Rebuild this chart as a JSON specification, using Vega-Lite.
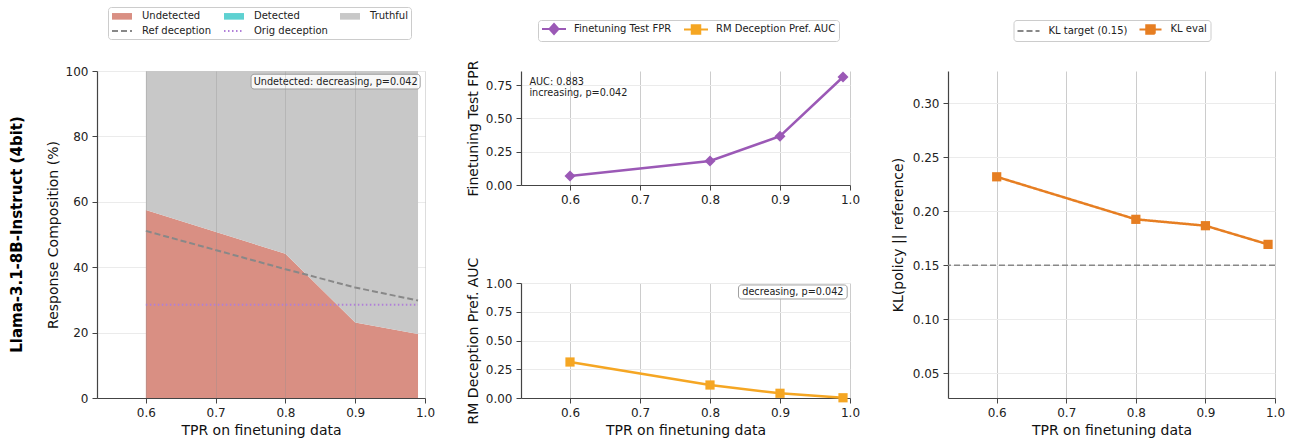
{
  "$schema": "https://vega.github.io/schema/vega-lite/v6.json",
  "padding": {"left": 10, "top": 6, "right": 5, "bottom": 5},
  "datasets": {
    "comp": [
      {"tpr": 0.6, "series": "Undetected", "pct": 57.5, "ord": 1},
      {"tpr": 0.8, "series": "Undetected", "pct": 44.1, "ord": 1},
      {"tpr": 0.9, "series": "Undetected", "pct": 23.1, "ord": 1},
      {"tpr": 0.99, "series": "Undetected", "pct": 19.6, "ord": 1},
      {"tpr": 0.6, "series": "Detected", "pct": 0, "ord": 2},
      {"tpr": 0.8, "series": "Detected", "pct": 0, "ord": 2},
      {"tpr": 0.9, "series": "Detected", "pct": 0, "ord": 2},
      {"tpr": 0.99, "series": "Detected", "pct": 0, "ord": 2},
      {"tpr": 0.6, "series": "Truthful", "pct": 42.5, "ord": 3},
      {"tpr": 0.8, "series": "Truthful", "pct": 55.9, "ord": 3},
      {"tpr": 0.9, "series": "Truthful", "pct": 76.9, "ord": 3},
      {"tpr": 0.99, "series": "Truthful", "pct": 80.4, "ord": 3}
    ],
    "refdec": [
      {"tpr": 0.6, "series": "Ref deception", "pct": 51.1},
      {"tpr": 0.8, "series": "Ref deception", "pct": 39.4},
      {"tpr": 0.9, "series": "Ref deception", "pct": 33.8},
      {"tpr": 0.99, "series": "Ref deception", "pct": 29.8}
    ],
    "origdec": [
      {"tpr": 0.6, "series": "Orig deception", "pct": 28.5},
      {"tpr": 0.99, "series": "Orig deception", "pct": 28.5}
    ],
    "ann_left": [
      {"x1": 0.7508, "x2": 0.9931, "y1": 94.5, "y2": 99.0, "tx": 0.872, "ty": 96.75, "label": "Undetected: decreasing, p=0.042"}
    ],
    "fpr": [
      {"tpr": 0.6, "series": "Finetuning Test FPR", "v": 0.067},
      {"tpr": 0.8, "series": "Finetuning Test FPR", "v": 0.18},
      {"tpr": 0.9, "series": "Finetuning Test FPR", "v": 0.366},
      {"tpr": 0.99, "series": "Finetuning Test FPR", "v": 0.811}
    ],
    "ann_fpr": [
      {"tx": 0.542, "ty": 0.777, "label": "AUC: 0.883"},
      {"tx": 0.542, "ty": 0.691, "label": "increasing, p=0.042"}
    ],
    "auc": [
      {"tpr": 0.6, "series": "RM Deception Pref. AUC", "v": 0.313},
      {"tpr": 0.8, "series": "RM Deception Pref. AUC", "v": 0.113},
      {"tpr": 0.9, "series": "RM Deception Pref. AUC", "v": 0.041},
      {"tpr": 0.99, "series": "RM Deception Pref. AUC", "v": 0.002}
    ],
    "ann_auc": [
      {"x1": 0.8407, "x2": 0.996, "y1": 0.861, "y2": 0.983, "tx": 0.9184, "ty": 0.922, "label": "decreasing, p=0.042"}
    ],
    "kl": [
      {"tpr": 0.6, "series": "KL eval", "v": 0.232},
      {"tpr": 0.8, "series": "KL eval", "v": 0.1926},
      {"tpr": 0.9, "series": "KL eval", "v": 0.1867},
      {"tpr": 0.99, "series": "KL eval", "v": 0.1694}
    ],
    "kltarget": [
      {"series": "KL target (0.15)", "v": 0.15}
    ]
  },
  "spacing": 31,
  "resolve": {"scale": {"fill": "independent", "stroke": "independent", "strokeDash": "independent", "shape": "independent", "color": "independent"}},
  "hconcat": [
    {
      "width": 328,
      "height": 327,
      "title": {"text": "Llama-3.1-8B-Instruct (4bit)", "orient": "left", "anchor": "middle", "frame": "group", "fontSize": 15, "fontWeight": "bold", "font": "DejaVu Sans", "color": "#000000", "offset": 21},
      "layer": [
        {
          "data": {"name": "comp"},
          "mark": {"type": "area", "opacity": 1},
          "encoding": {
            "x": {"field": "tpr", "type": "quantitative", "scale": {"domain": [0.53, 1.0], "nice": false, "zero": false},
                  "axis": {"values": [0.6, 0.7, 0.8, 0.9, 1.0], "tickCount": 20, "format": ".1f", "title": "TPR on finetuning data", "zindex": 1, "gridColor": "#909090", "gridOpacity": 0.3, "labelOverlap": false}},
            "y": {"field": "pct", "type": "quantitative", "stack": "zero", "scale": {"domain": [0, 100], "nice": false},
                  "axis": {"values": [0, 20, 40, 60, 80, 100], "tickCount": 20, "title": "Response Composition (%)", "labelOverlap": false}},
            "order": {"field": "ord", "type": "quantitative"},
            "fill": {
              "field": "series", "type": "nominal",
              "scale": {"domain": ["Undetected", "Detected", "Truthful", "Ref deception", "Orig deception"], "range": ["#d98f83", "#5ed1d1", "#c8c8c8", "transparent", "transparent"]},
              "legend": {"orient": "none", "legendX": 11, "legendY": -64, "columns": 3, "direction": "horizontal", "title": null, "symbolSize": 100, "symbolOffset": 5, "symbolStrokeWidth": 2, "symbolOpacity": 1, "labelFontSize": 10, "labelOffset": 14, "columnPadding": 8, "rowPadding": 1, "padding": 3, "strokeColor": "#cccccc", "fillColor": "#ffffff", "cornerRadius": 3}
            }
          }
        },
        {
          "data": {"name": "refdec"},
          "mark": {"type": "line", "strokeWidth": 2},
          "encoding": {
            "x": {"field": "tpr", "type": "quantitative"},
            "y": {"field": "pct", "type": "quantitative"},
            "stroke": {
              "field": "series", "type": "nominal",
              "scale": {"domain": ["Undetected", "Detected", "Truthful", "Ref deception", "Orig deception"], "range": ["transparent", "transparent", "transparent", "#888888", "#b07fd8"]},
              "legend": {"orient": "none", "legendX": 11, "legendY": -64, "columns": 3, "direction": "horizontal", "title": null, "symbolSize": 100, "symbolOffset": 5, "symbolStrokeWidth": 2, "symbolOpacity": 1, "labelFontSize": 10, "labelOffset": 14, "columnPadding": 8, "rowPadding": 1, "padding": 3, "strokeColor": "#cccccc", "fillColor": "#ffffff", "cornerRadius": 3}
            },
            "strokeDash": {
              "field": "series", "type": "nominal",
              "scale": {"domain": ["Undetected", "Detected", "Truthful", "Ref deception", "Orig deception"], "range": [[1, 0], [1, 0], [1, 0], [6, 3], [1.5, 2.5]]},
              "legend": {"orient": "none", "legendX": 11, "legendY": -64, "columns": 3, "direction": "horizontal", "title": null, "symbolSize": 100, "symbolOffset": 5, "symbolStrokeWidth": 2, "symbolOpacity": 1, "labelFontSize": 10, "labelOffset": 14, "columnPadding": 8, "rowPadding": 1, "padding": 3, "strokeColor": "#cccccc", "fillColor": "#ffffff", "cornerRadius": 3}
            }
          }
        },
        {
          "data": {"name": "origdec"},
          "mark": {"type": "line", "strokeWidth": 2},
          "encoding": {
            "x": {"field": "tpr", "type": "quantitative"},
            "y": {"field": "pct", "type": "quantitative"},
            "stroke": {"field": "series", "type": "nominal"},
            "strokeDash": {"field": "series", "type": "nominal"}
          }
        },
        {
          "data": {"name": "refdec"},
          "mark": {"type": "point", "opacity": 0, "filled": false},
          "encoding": {
            "x": {"field": "tpr", "type": "quantitative"},
            "y": {"field": "pct", "type": "quantitative"},
            "shape": {
              "field": "series", "type": "nominal",
              "scale": {"domain": ["Undetected", "Detected", "Truthful", "Ref deception", "Orig deception"], "range": ["M-2,-0.66H2V0.66H-2Z", "M-2,-0.66H2V0.66H-2Z", "M-2,-0.66H2V0.66H-2Z", "M-2,0H2", "M-2,0H2"]},
              "legend": {"orient": "none", "legendX": 11, "legendY": -64, "columns": 3, "direction": "horizontal", "title": null, "symbolSize": 100, "symbolOffset": 5, "symbolStrokeWidth": 2, "symbolOpacity": 1, "labelFontSize": 10, "labelOffset": 14, "columnPadding": 8, "rowPadding": 1, "padding": 3, "strokeColor": "#cccccc", "fillColor": "#ffffff", "cornerRadius": 3}
            }
          }
        },
        {
          "data": {"name": "ann_left"},
          "mark": {"type": "rect", "fill": "#ffffff", "fillOpacity": 0.85, "stroke": "#a0a0a0", "strokeWidth": 1, "cornerRadius": 3},
          "encoding": {
            "x": {"field": "x1", "type": "quantitative"},
            "x2": {"field": "x2"},
            "y": {"field": "y1", "type": "quantitative"},
            "y2": {"field": "y2"}
          }
        },
        {
          "data": {"name": "ann_left"},
          "mark": {"type": "text", "fontSize": 9.7, "font": "DejaVu Sans", "color": "#222222", "align": "center", "baseline": "middle"},
          "encoding": {
            "x": {"field": "tx", "type": "quantitative"},
            "y": {"field": "ty", "type": "quantitative"},
            "text": {"field": "label"}
          }
        }
      ]
    },
    {
      "bounds": "flush",
      "spacing": 98,
      "resolve": {"scale": {"fill": "independent", "stroke": "independent", "shape": "independent", "color": "independent"}},
      "vconcat": [
        {
          "width": 329,
          "height": 114,
          "layer": [
            {
              "data": {"name": "fpr"},
              "mark": {"type": "line", "strokeWidth": 2.5},
              "encoding": {
                "x": {"field": "tpr", "type": "quantitative", "scale": {"domain": [0.53, 1.0], "nice": false, "zero": false},
                      "axis": {"values": [0.6, 0.7, 0.8, 0.9, 1.0], "tickCount": 20, "format": ".1f", "title": null, "labelOverlap": false}},
                "y": {"field": "v", "type": "quantitative", "scale": {"domain": [0, 0.856], "nice": false},
                      "axis": {"values": [0, 0.25, 0.5, 0.75], "tickCount": 20, "format": ".2f", "title": "Finetuning Test FPR", "labelOverlap": false}},
                "stroke": {
                  "field": "series", "type": "nominal",
                  "scale": {"domain": ["Finetuning Test FPR", "RM Deception Pref. AUC"], "range": ["#9b59b6", "#f5a623"]},
                  "legend": {"orient": "none", "legendX": 17, "legendY": -51, "columns": 2, "direction": "horizontal", "title": null, "symbolSize": 100, "symbolOffset": 7, "symbolStrokeWidth": 2, "symbolOpacity": 1, "labelFontSize": 10, "labelOffset": 14, "columnPadding": 8, "padding": 3, "strokeColor": "#cccccc", "fillColor": "#ffffff", "cornerRadius": 3}
                }
              }
            },
            {
              "data": {"name": "fpr"},
              "mark": {"type": "point", "shape": "diamond", "filled": true, "size": 120, "opacity": 1},
              "encoding": {
                "x": {"field": "tpr", "type": "quantitative"},
                "y": {"field": "v", "type": "quantitative"},
                "fill": {
                  "field": "series", "type": "nominal",
                  "scale": {"domain": ["Finetuning Test FPR", "RM Deception Pref. AUC"], "range": ["#9b59b6", "#f5a623"]},
                  "legend": {"orient": "none", "legendX": 17, "legendY": -51, "columns": 2, "direction": "horizontal", "title": null, "symbolSize": 100, "symbolOffset": 7, "symbolStrokeWidth": 2, "symbolOpacity": 1, "labelFontSize": 10, "labelOffset": 14, "columnPadding": 8, "padding": 3, "strokeColor": "#cccccc", "fillColor": "#ffffff", "cornerRadius": 3}
                }
              }
            },
            {
              "data": {"name": "fpr"},
              "mark": {"type": "point", "opacity": 0, "filled": false},
              "encoding": {
                "x": {"field": "tpr", "type": "quantitative"},
                "y": {"field": "v", "type": "quantitative"},
                "shape": {
                  "field": "series", "type": "nominal",
                  "scale": {"domain": ["Finetuning Test FPR", "RM Deception Pref. AUC"], "range": ["M-2.4,0H2.4M0,-1L0.9,0L0,1L-0.9,0Z", "M-2.4,0H2.4M-0.85,-0.85H0.85V0.85H-0.85Z"]},
                  "legend": {"orient": "none", "legendX": 17, "legendY": -51, "columns": 2, "direction": "horizontal", "title": null, "symbolSize": 100, "symbolOffset": 7, "symbolStrokeWidth": 2, "symbolOpacity": 1, "labelFontSize": 10, "labelOffset": 14, "columnPadding": 8, "padding": 3, "strokeColor": "#cccccc", "fillColor": "#ffffff", "cornerRadius": 3}
                }
              }
            },
            {
              "data": {"name": "ann_fpr"},
              "mark": {"type": "text", "fontSize": 9.7, "font": "DejaVu Sans", "color": "#222222", "align": "left", "baseline": "middle"},
              "encoding": {
                "x": {"field": "tx", "type": "quantitative"},
                "y": {"field": "ty", "type": "quantitative"},
                "text": {"field": "label"}
              }
            }
          ]
        },
        {
          "width": 329,
          "height": 115,
          "layer": [
            {
              "data": {"name": "auc"},
              "mark": {"type": "line", "strokeWidth": 2.5, "color": "#f5a623"},
              "encoding": {
                "x": {"field": "tpr", "type": "quantitative", "scale": {"domain": [0.53, 1.0], "nice": false, "zero": false},
                      "axis": {"values": [0.6, 0.7, 0.8, 0.9, 1.0], "tickCount": 20, "format": ".1f", "title": "TPR on finetuning data", "labelOverlap": false}},
                "y": {"field": "v", "type": "quantitative", "scale": {"domain": [0, 1], "nice": false},
                      "axis": {"values": [0, 0.25, 0.5, 0.75, 1.0], "tickCount": 20, "format": ".2f", "title": "RM Deception Pref. AUC", "labelOverlap": false}}
              }
            },
            {
              "data": {"name": "auc"},
              "mark": {"type": "point", "shape": "square", "filled": true, "size": 85, "opacity": 1, "color": "#f5a623"},
              "encoding": {
                "x": {"field": "tpr", "type": "quantitative"},
                "y": {"field": "v", "type": "quantitative"}
              }
            },
            {
              "data": {"name": "ann_auc"},
              "mark": {"type": "rect", "fill": "#ffffff", "fillOpacity": 0.85, "stroke": "#a0a0a0", "strokeWidth": 1, "cornerRadius": 3},
              "encoding": {
                "x": {"field": "x1", "type": "quantitative"},
                "x2": {"field": "x2"},
                "y": {"field": "y1", "type": "quantitative"},
                "y2": {"field": "y2"}
              }
            },
            {
              "data": {"name": "ann_auc"},
              "mark": {"type": "text", "fontSize": 9.7, "font": "DejaVu Sans", "color": "#222222", "align": "center", "baseline": "middle"},
              "encoding": {
                "x": {"field": "tx", "type": "quantitative"},
                "y": {"field": "ty", "type": "quantitative"},
                "text": {"field": "label"}
              }
            }
          ]
        }
      ]
    },
    {
      "width": 327,
      "height": 327,
      "layer": [
        {
          "data": {"name": "kltarget"},
          "mark": {"type": "rule", "strokeWidth": 1.5},
          "encoding": {
            "y": {"field": "v", "type": "quantitative", "scale": {"domain": [0.0271, 0.33], "nice": false, "zero": false},
                  "axis": {"values": [0.05, 0.1, 0.15, 0.2, 0.25, 0.3], "tickCount": 20, "format": ".2f", "title": "KL(policy || reference)", "titlePadding": 7, "labelOverlap": false}},
            "stroke": {
              "field": "series", "type": "nominal",
              "scale": {"domain": ["KL target (0.15)", "KL eval"], "range": ["#888888", "#e67e22"]},
              "legend": {"orient": "none", "legendX": 65.5, "legendY": -51, "columns": 2, "direction": "horizontal", "title": null, "symbolSize": 100, "symbolOffset": 6, "symbolStrokeWidth": 2, "symbolOpacity": 1, "labelFontSize": 10, "labelOffset": 14, "columnPadding": 8, "padding": 3, "strokeColor": "#cccccc", "fillColor": "#ffffff", "cornerRadius": 3}
            },
            "strokeDash": {
              "field": "series", "type": "nominal",
              "scale": {"domain": ["KL target (0.15)", "KL eval"], "range": [[6, 3], [1, 0]]},
              "legend": {"orient": "none", "legendX": 65.5, "legendY": -51, "columns": 2, "direction": "horizontal", "title": null, "symbolSize": 100, "symbolOffset": 6, "symbolStrokeWidth": 2, "symbolOpacity": 1, "labelFontSize": 10, "labelOffset": 14, "columnPadding": 8, "padding": 3, "strokeColor": "#cccccc", "fillColor": "#ffffff", "cornerRadius": 3}
            }
          }
        },
        {
          "data": {"name": "kl"},
          "mark": {"type": "line", "strokeWidth": 2.5},
          "encoding": {
            "x": {"field": "tpr", "type": "quantitative", "scale": {"domain": [0.53, 1.0], "nice": false, "zero": false},
                  "axis": {"values": [0.6, 0.7, 0.8, 0.9, 1.0], "tickCount": 20, "format": ".1f", "title": "TPR on finetuning data", "labelOverlap": false}},
            "y": {"field": "v", "type": "quantitative"},
            "stroke": {"field": "series", "type": "nominal"},
            "strokeDash": {"field": "series", "type": "nominal"}
          }
        },
        {
          "data": {"name": "kl"},
          "mark": {"type": "point", "shape": "square", "filled": true, "size": 85, "opacity": 1},
          "encoding": {
            "x": {"field": "tpr", "type": "quantitative"},
            "y": {"field": "v", "type": "quantitative"},
            "fill": {
              "field": "series", "type": "nominal",
              "scale": {"domain": ["KL target (0.15)", "KL eval"], "range": ["transparent", "#e67e22"]},
              "legend": {"orient": "none", "legendX": 65.5, "legendY": -51, "columns": 2, "direction": "horizontal", "title": null, "symbolSize": 100, "symbolOffset": 6, "symbolStrokeWidth": 2, "symbolOpacity": 1, "labelFontSize": 10, "labelOffset": 14, "columnPadding": 8, "padding": 3, "strokeColor": "#cccccc", "fillColor": "#ffffff", "cornerRadius": 3}
            }
          }
        },
        {
          "data": {"name": "kl"},
          "mark": {"type": "point", "opacity": 0, "filled": false},
          "encoding": {
            "x": {"field": "tpr", "type": "quantitative"},
            "y": {"field": "v", "type": "quantitative"},
            "shape": {
              "field": "series", "type": "nominal",
              "scale": {"domain": ["KL target (0.15)", "KL eval"], "range": ["M-2.2,0H2.2", "M-2.2,0H2.2M-0.85,-0.85H0.85V0.85H-0.85Z"]},
              "legend": {"orient": "none", "legendX": 65.5, "legendY": -51, "columns": 2, "direction": "horizontal", "title": null, "symbolSize": 100, "symbolOffset": 6, "symbolStrokeWidth": 2, "symbolOpacity": 1, "labelFontSize": 10, "labelOffset": 14, "columnPadding": 8, "padding": 3, "strokeColor": "#cccccc", "fillColor": "#ffffff", "cornerRadius": 3}
            }
          }
        }
      ]
    }
  ],
  "config": {
    "font": "DejaVu Sans",
    "view": {"stroke": null},
    "axis": {
      "labelFont": "DejaVu Sans", "labelFontSize": 12, "labelColor": "#222222", "labelFlush": false, "labelOverlap": false, "labelPadding": 4,
      "titleFont": "DejaVu Sans", "titleFontSize": 14, "titleFontWeight": "normal", "titleColor": "#111111", "titlePadding": 5,
      "domainColor": "#444444", "domainWidth": 1.2, "tickColor": "#444444", "tickSize": 5, "tickWidth": 1,
      "gridColor": "#ebebeb", "gridWidth": 1
    },
    "axisX": {"gridColor": "#cccccc"},
    "legend": {"labelFont": "DejaVu Sans", "labelColor": "#222222"}
  }
}
